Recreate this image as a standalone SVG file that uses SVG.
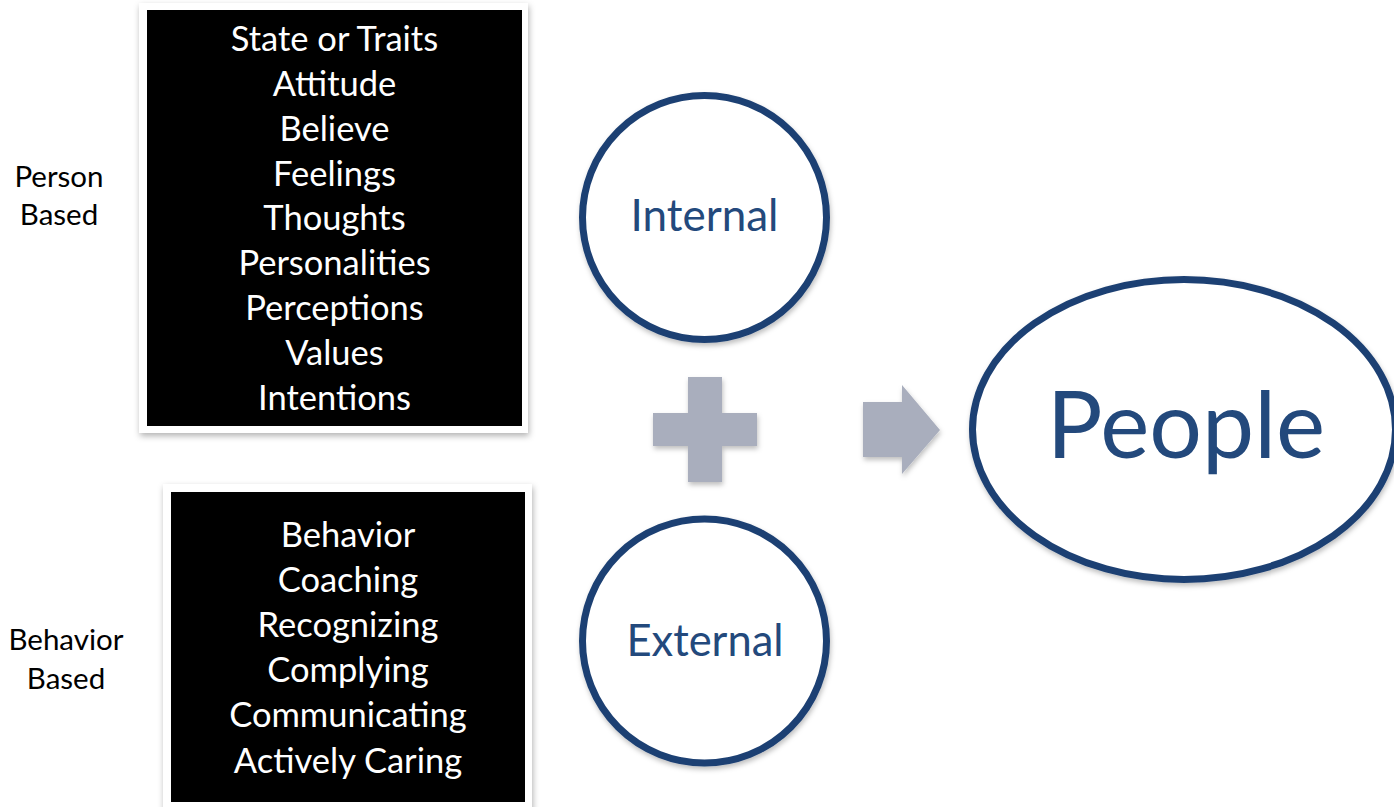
<svg xmlns="http://www.w3.org/2000/svg" width="1394" height="807" viewBox="0 0 1394 807">
<style>
.boxtxt{font-family:Lato,"Open Sans",sans-serif;font-size:34.5px;fill:#ffffff;text-anchor:middle}
.label{font-family:Lato,"Open Sans",sans-serif;font-size:29.5px;fill:#000000;text-anchor:middle}
.circ{fill:#ffffff;stroke:#1E4173;stroke-width:7}
.ctxt{font-family:Lato,"Open Sans",sans-serif;fill:#23497C;text-anchor:middle}
.shape{fill:#A9AEBD}
</style>
<defs>
<filter id="sh" x="-10%" y="-10%" width="125%" height="125%">
<feDropShadow dx="1" dy="3" stdDeviation="3" flood-color="#000" flood-opacity="0.3"/>
</filter>
<filter id="sh2" x="-10%" y="-10%" width="125%" height="125%">
<feDropShadow dx="1" dy="3" stdDeviation="2.5" flood-color="#000" flood-opacity="0.25"/>
</filter>
</defs>
<rect width="1394" height="807" fill="#ffffff"/>

<g id="label-person">
<text class="label" x="59" y="187">Person</text>
<text class="label" x="59" y="225">Based</text>
</g>
<g id="label-behavior">
<text class="label" x="66" y="650">Behavior</text>
<text class="label" x="66" y="689">Based</text>
</g>

<g id="box-person">
<rect x="139" y="3" width="389" height="430" fill="#ffffff" filter="url(#sh)"/>
<rect x="147" y="10" width="375" height="416" fill="#000000"/>
<text class="boxtxt" x="334.5" y="51">State or Traits</text>
<text class="boxtxt" x="334.5" y="96">Attitude</text>
<text class="boxtxt" x="334.5" y="141">Believe</text>
<text class="boxtxt" x="334.5" y="186">Feelings</text>
<text class="boxtxt" x="334.5" y="230">Thoughts</text>
<text class="boxtxt" x="334.5" y="275">Personalities</text>
<text class="boxtxt" x="334.5" y="320">Perceptions</text>
<text class="boxtxt" x="334.5" y="365">Values</text>
<text class="boxtxt" x="334.5" y="410">Intentions</text>
</g>

<g id="box-behavior">
<rect x="163" y="484" width="369" height="330" fill="#ffffff" filter="url(#sh)"/>
<rect x="171" y="492" width="354" height="310" fill="#000000"/>
<text class="boxtxt" x="348" y="547">Behavior</text>
<text class="boxtxt" x="348" y="592">Coaching</text>
<text class="boxtxt" x="348" y="637">Recognizing</text>
<text class="boxtxt" x="348" y="682">Complying</text>
<text class="boxtxt" x="348" y="727">Communicating</text>
<text class="boxtxt" x="348" y="773">Actively Caring</text>
</g>

<g id="node-internal">
<circle class="circ" cx="704.5" cy="217.5" r="122" filter="url(#sh2)"/>
<text class="ctxt" x="704.5" y="231" font-size="44">Internal</text>
</g>

<g id="node-external">
<circle class="circ" cx="704.5" cy="641" r="122" filter="url(#sh2)"/>
<text class="ctxt" x="705" y="656" font-size="43.5">External</text>
</g>

<g id="node-people">
<ellipse class="circ" cx="1184" cy="429.5" rx="211.5" ry="150" filter="url(#sh2)"/>
<text class="ctxt" x="1186" y="458" font-size="93">People</text>
</g>

<g id="plus">
<path class="shape" filter="url(#sh2)" d="M688 377H722V413H757V446H722V482H688V446H653V413H688Z"/>
</g>

<g id="connectors">
<path class="shape" filter="url(#sh2)" d="M863 402H902V385L940 430L902 474V457H863Z"/>
</g>
</svg>
